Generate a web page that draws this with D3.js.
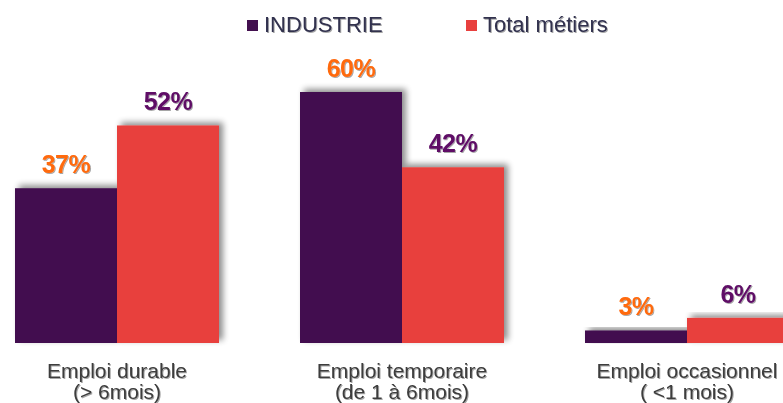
<!DOCTYPE html>
<html><head><meta charset="utf-8">
<script src="https://cdn.jsdelivr.net/npm/d3@7"></script>
<style>body{margin:0;background:#fff}svg{display:block}</style>
</head><body>
<svg id="c" width="783" height="403"></svg>
<script>
const categories = ["Emploi durable|(> 6mois)", "Emploi temporaire|(de 1 à 6mois)", "Emploi occasionnel|( <1 mois)"];
const seriesNames = ["INDUSTRIE", "Total métiers"];
const industrie = [37, 60, 3];
const totalMetiers = [52, 42, 6];
const seriesColors = ["#43104f", "#e8403e"];
const labelColors = ["#ff6a10", "#5e0c66"];

const FONT = "'Liberation Sans', Arial, sans-serif";
const svg = d3.select("#c");
const defs = svg.append("defs");
const f = defs.append("filter").attr("id","sh").attr("x","-20%").attr("y","-20%").attr("width","150%").attr("height","150%");
f.append("feGaussianBlur").attr("in","SourceAlpha").attr("stdDeviation",3).attr("result","b");
f.append("feOffset").attr("in","b").attr("dx",4).attr("dy",-3).attr("result","o");
f.append("feComponentTransfer").attr("in","o").attr("result","o2").append("feFuncA").attr("type","linear").attr("slope",0.45);
const m = f.append("feMerge"); m.append("feMergeNode").attr("in","o2"); m.append("feMergeNode").attr("in","SourceGraphic");
const ft = defs.append("filter").attr("id","tsh").attr("x","-10%").attr("y","-20%").attr("width","130%").attr("height","150%");
ft.append("feGaussianBlur").attr("in","SourceAlpha").attr("stdDeviation",0.6).attr("result","b");
ft.append("feOffset").attr("in","b").attr("dx",1).attr("dy",1).attr("result","o");
ft.append("feComponentTransfer").attr("in","o").attr("result","o2").append("feFuncA").attr("type","linear").attr("slope",0.35);
const m2 = ft.append("feMerge"); m2.append("feMergeNode").attr("in","o2"); m2.append("feMergeNode").attr("in","SourceGraphic");

const x0 = d3.scaleBand().domain(categories).range([15, 789]).paddingInner(81/285).paddingOuter(0);
const x1 = d3.scaleBand().domain(seriesNames).range([0, x0.bandwidth()]).padding(0);
const y = d3.scaleLinear().domain([0, 60]).range([343, 92]);

const data = categories.map((c,i)=>({cat:c, vals:[industrie[i], totalMetiers[i]]}));

const g = svg.append("g");
data.forEach(d=>{
  const gg = g.append("g").attr("transform",`translate(${x0(d.cat)},0)`);
  d.vals.forEach((v,j)=>{
    gg.append("rect").attr("x", x1(seriesNames[j])).attr("y", y(v))
      .attr("width", x1.bandwidth()).attr("height", y(0)-y(v))
      .attr("fill", seriesColors[j]).attr("filter","url(#sh)");
  });
  d.vals.forEach((v,j)=>{
    gg.append("text").attr("x", x1(seriesNames[j]) + x1.bandwidth()/2).attr("y", y(v)-15)
      .attr("text-anchor","middle").attr("font-family",FONT)
      .attr("font-weight","bold").attr("font-size",25).attr("letter-spacing","-0.5")
      .attr("fill", labelColors[j]).attr("filter","url(#tsh)").text(v+"%");
  });
  const lines = d.cat.split("|");
  lines.forEach((t,k)=>{
    gg.append("text").attr("x", x0.bandwidth()/2).attr("y", 378 + k*21)
      .attr("text-anchor","middle").attr("font-family",FONT)
      .attr("font-size",21).attr("fill","#3c3c3c").attr("filter","url(#tsh)").text(t);
  });
});

// legend
const legX = [247, 466];
seriesNames.forEach((s,j)=>{
  svg.append("rect").attr("x",legX[j]).attr("y",20).attr("width",11).attr("height",11).attr("fill",seriesColors[j]);
  svg.append("text").attr("x",legX[j]+17).attr("y",32).attr("font-family",FONT)
    .attr("font-size",22).attr("fill","#30304e").attr("filter","url(#tsh)").text(s);
});
</script>
</body></html>
